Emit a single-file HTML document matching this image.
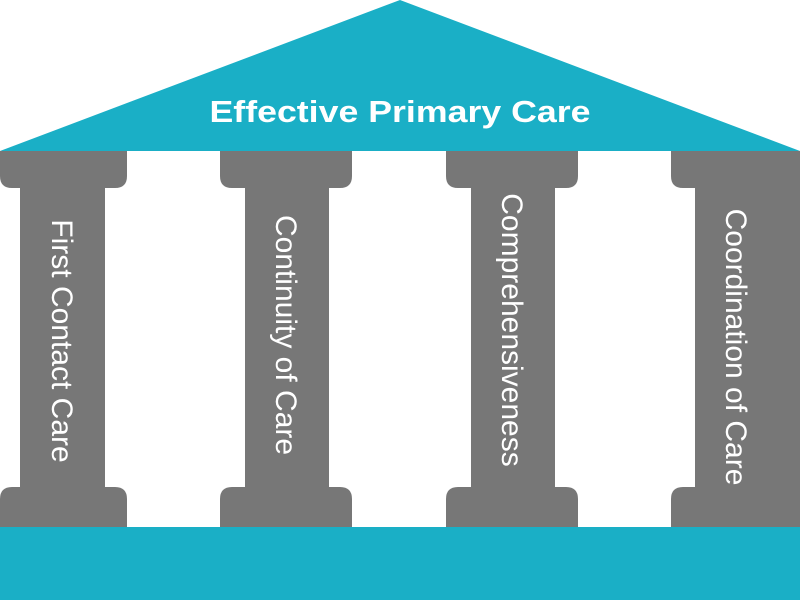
<!DOCTYPE html>
<html><head><style>html,body{margin:0;padding:0;background:#fff}svg{display:block}</style></head><body>
<svg width="800" height="600" viewBox="0 0 800 600" xmlns="http://www.w3.org/2000/svg">
<polygon points="0,151 400,0 800,151" fill="#1aafc6"/>
<rect x="0" y="527" width="800" height="73" fill="#1aafc6"/>
<g fill="#777">
<path d="M0,151H127V176Q127,188 115,188H105V487H115Q127,487 127,499V527H0V499Q0,487 12,487H20V188H12Q0,188 0,176Z"/>
<path d="M220,151H352V176Q352,188 340,188H329V487H340Q352,487 352,499V527H220V499Q220,487 232,487H245V188H232Q220,188 220,176Z"/>
<path d="M446,151H578V176Q578,188 566,188H555V487H566Q578,487 578,499V527H446V499Q446,487 458,487H471V188H458Q446,188 446,176Z"/>
<path d="M671,151H800V527H671V499Q671,487 683,487H695V188H683Q671,188 671,176Z"/>
<rect x="780" y="151" width="20" height="376"/>
</g>
<text x="400" y="122" text-anchor="middle" font-family="Liberation Sans, sans-serif" font-weight="bold" font-size="31" fill="#fff" textLength="381" lengthAdjust="spacingAndGlyphs">Effective Primary Care</text>
<g font-family="Liberation Sans, sans-serif" font-size="30" fill="#fff" text-anchor="middle">
<text transform="translate(52,341) rotate(90)">First Contact Care</text>
<text transform="translate(276,335) rotate(90)">Continuity of Care</text>
<text transform="translate(502,330) rotate(90)">Comprehensiveness</text>
<text transform="translate(726,347) rotate(90)">Coordination of Care</text>
</g>
</svg>
</body></html>
